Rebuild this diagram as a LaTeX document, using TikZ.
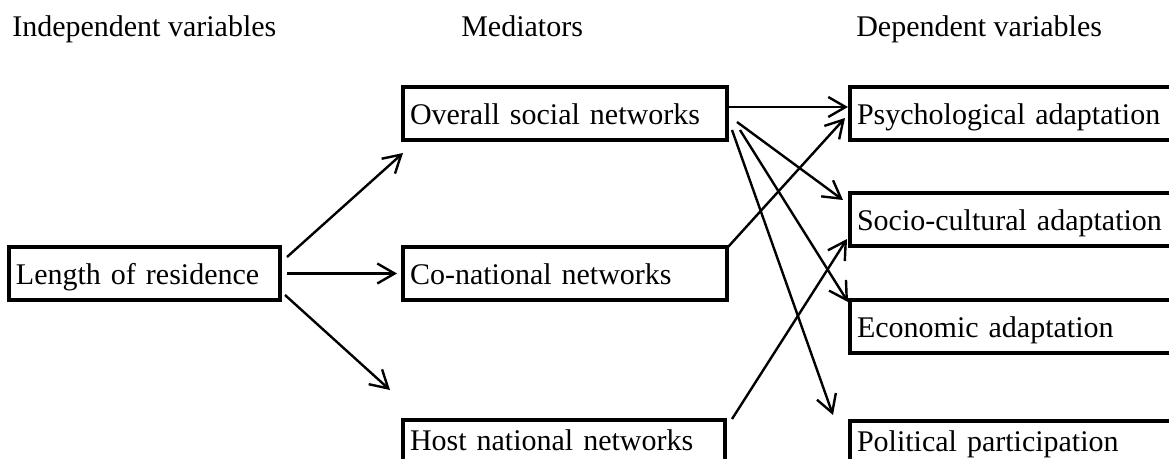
\documentclass[tikz,border=0pt]{standalone}
\usepackage{fontspec}
\setmainfont{Liberation Serif}
\usetikzlibrary{arrows.meta}
\begin{document}
\begin{tikzpicture}[x=0.75pt,y=-0.75pt,
  every node/.style={font=\fontsize{22.5pt}{27pt}\selectfont},
  box/.style={draw, line width=2.6pt, anchor=north west, outer sep=0pt,
    minimum height=39.75pt, inner xsep=5.25pt, inner ysep=0pt,
    text height=15.75pt, text depth=0pt, align=left},
  lowbox/.style={box, text height=5.25pt},
  header/.style={anchor=base west, inner sep=0pt},
  conn/.style={line width=1.8pt, -{Straight Barb[length=13pt,width=15pt,line width=1.8pt]}}]
\path[use as bounding box, clip] (0,0) rectangle (1169,458);
% headers
\node[header] (hind) at (12,36) {Independent variables};
\node[header] (hmed) at (461,36) {Mediators};
\node[header] (hdep) at (856,36) {Dependent variables};
% boxes
\node[box, minimum width=203.25pt, text width=192.75pt] (lor) at (9,247) {Length of residence};
\node[box, minimum width=243pt, text width=232.5pt] (osn) at (403,87) {Overall social networks};
\node[box, minimum width=243pt, text width=232.5pt] (cnn) at (403,247) {Co-national networks};
\node[lowbox, minimum width=241.5pt, text width=231pt] (hnn) at (403,420) {Host national networks};
\node[box, minimum width=247.5pt, text width=237pt] (psy) at (850,87) {Psychological adaptation};
\node[box, minimum width=247.5pt, text width=237pt] (soc) at (850,193) {Socio-cultural adaptation};
\node[box, minimum width=247.5pt, text width=237pt] (eco) at (850,300) {Economic adaptation};
\node[lowbox, minimum width=247.5pt, text width=237pt] (pol) at (850,421) {Political participation};
% connectors
\draw[conn] ([shift={(7,10)}]lor.north east) -- ([shift={(0,13)}]osn.south west);
\draw[conn] ([shift={(7,0)}]lor.east) -- ([shift={(-6,0)}]cnn.west);
\draw[conn] ([shift={(5,-5)}]lor.south east) -- ([shift={(-13,-30)}]hnn.north west);
\draw[conn] ([shift={(0,20)}]osn.north east) -- ([shift={(-2,20)}]psy.north west);
\draw[conn] ([shift={(10,-18)}]osn.south east) -- ([shift={(-7,7)}]soc.north west);
\draw[conn] ([shift={(13,-10)}]osn.south east) -- ([shift={(-2,2)}]eco.north west);
\draw[conn] ([shift={(5,-10)}]osn.south east) -- ([shift={(-17,-6)}]pol.north west);
\draw[conn] ([shift={(1,0)}]cnn.north east) -- ([shift={(-5,-22)}]psy.south west);
\draw[conn] ([shift={(7,-1)}]hnn.north east) -- ([shift={(-3,-7)}]soc.south west);
\end{tikzpicture}
\end{document}
